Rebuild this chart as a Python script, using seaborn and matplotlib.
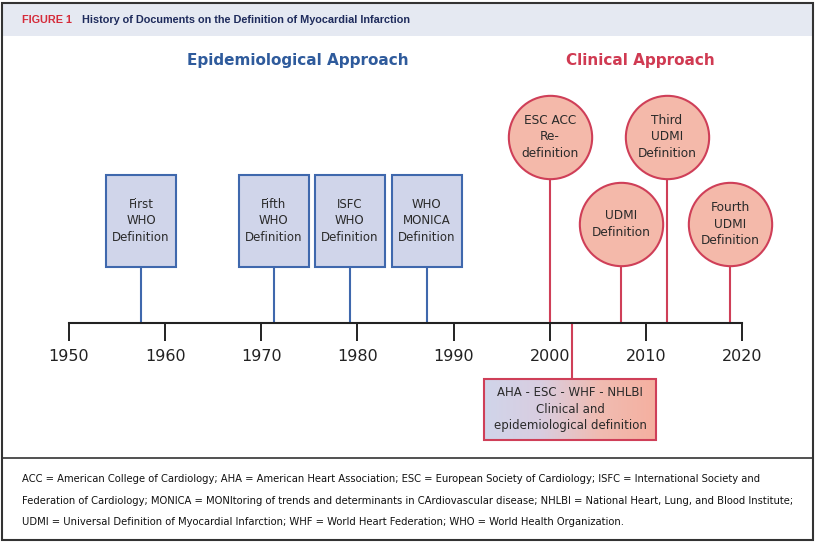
import numpy as np
import pandas as pd
import matplotlib
matplotlib.use("Agg")
import matplotlib.pyplot as plt
from matplotlib.patches import Rectangle
from matplotlib.colors import LinearSegmentedColormap
import seaborn as sns

# --- data ---
tick_years = [1950, 1960, 1970, 1980, 1990, 2000, 2010, 2020]

epi_labels = ["First\nWHO\nDefinition", "Fifth\nWHO\nDefinition",
              "ISFC\nWHO\nDefinition", "WHO\nMONICA\nDefinition"]
epi_years = [1957.5, 1971.3, 1979.2, 1987.2]

clin_labels = ["ESC ACC\nRe-\ndefinition", "UDMI\nDefinition",
               "Third\nUDMI\nDefinition", "Fourth\nUDMI\nDefinition"]
clin_years = [2000.0, 2007.4, 2012.2, 2018.8]

joint_label = "AHA - ESC - WHF - NHLBI\nClinical and\nepidemiological definition"
joint_year = 2002.3

title_tag = "FIGURE 1"
title_text = "History of Documents on the Definition of Myocardial Infarction"
footnote = [
    "ACC = American College of Cardiology; AHA = American Heart Association; ESC = European Society of Cardiology; ISFC = International Society and",
    "Federation of Cardiology; MONICA = MONItoring of trends and determinants in CArdiovascular disease; NHLBI = National Heart, Lung, and Blood Institute;",
    "UDMI = Universal Definition of Myocardial Infarction; WHF = World Heart Federation; WHO = World Health Organization.",
]

# --- layout (pixels, y down) ---
W, H = 816, 543
PX_PER_YEAR = 9.614
X0 = 69  # pixel of 1950
AXIS_Y = 323
clin_tier = [137, 224, 137, 224]  # circle centres

BLUE = "#3f68ad"
BLUE_FILL = "#d0d5ea"
RED = "#cf3f58"
RED_FILL = "#f4b9aa"
TXT = "#2a2a2a"

sns.set_theme(style="white")
plt.rcParams["font.family"] = ["DejaVu Sans"]

fig = plt.figure(figsize=(W / 100, H / 100), dpi=100)

# frame axes in pixel coords
fr = fig.add_axes([0, 0, 1, 1])
fr.set_xlim(0, W)
fr.set_ylim(H, 0)
fr.axis("off")
fr.add_patch(Rectangle((2, 3), W - 5, 33, facecolor="#e5e9f2", edgecolor="none", zorder=0))
fr.add_patch(Rectangle((2, 3), W - 5, H - 6, facecolor="none", edgecolor="#333333", lw=1.5, zorder=5))
fr.plot([2, W - 3], [458, 458], color="#333333", lw=1.2, zorder=5)
fr.text(22, 20, title_tag, color="#d52b3a", fontsize=7.8, fontweight="bold", va="center",
        family=["Liberation Sans", "DejaVu Sans"])
fr.text(82, 20, title_text, color="#1e2b5c", fontsize=7.8, fontweight="bold", va="center",
        family=["Liberation Sans", "DejaVu Sans"])
for i, line in enumerate(footnote):
    fr.text(22, 479 + i * 21.5, line, fontsize=7.2, color="#111111", va="center")

# timeline axes: x in years, y in pixels
ax = fig.add_axes([0, 0, 1, 1], facecolor="none")
xlim = (1950 - X0 / PX_PER_YEAR, 1950 + (W - X0) / PX_PER_YEAR)
ax.set_xlim(*xlim)
ax.set_ylim(H, 0)
for s in ["top", "left", "right"]:
    ax.spines[s].set_visible(False)
ax.spines["bottom"].set_position(("data", AXIS_Y))
ax.spines["bottom"].set_bounds(1950, 2020)
ax.spines["bottom"].set_linewidth(1.5)
ax.spines["bottom"].set_color("#222222")
ax.set_xticks(tick_years)
ax.set_xticklabels([str(y) for y in tick_years])
ax.tick_params(axis="x", direction="out", length=13, width=1.4, color="#222222",
               labelsize=11.5, pad=5.5, labelcolor="#222222", bottom=True)
ax.set_yticks([])
ax.grid(False)

ax.text(1950 + (298 - X0) / PX_PER_YEAR, 60, "Epidemiological Approach", color="#2f5b9c",
        fontsize=11, fontweight="bold", ha="center", va="center")
ax.text(1950 + (640 - X0) / PX_PER_YEAR, 60, "Clinical Approach", color="#d03a52",
        fontsize=11, fontweight="bold", ha="center", va="center")

# epidemiological boxes
bw = 70 / PX_PER_YEAR
for yr, lab in zip(epi_years, epi_labels):
    ax.plot([yr, yr], [267, AXIS_Y], color=BLUE, lw=1.5, zorder=2)
    ax.add_patch(Rectangle((yr - bw / 2, 175), bw, 92, facecolor=BLUE_FILL,
                           edgecolor=BLUE, lw=1.5, zorder=3))
    ax.text(yr, 221, lab, ha="center", va="center", fontsize=8.5, color=TXT,
            linespacing=1.35, zorder=4)

# clinical circles
circ = pd.DataFrame({"year": clin_years, "y": clin_tier})
for yr, cy in zip(clin_years, clin_tier):
    ax.plot([yr, yr], [cy, AXIS_Y], color=RED, lw=1.5, zorder=2)
sns.scatterplot(data=circ, x="year", y="y", s=3600, color=RED_FILL, edgecolor=RED,
                linewidth=1.5, zorder=3, ax=ax, legend=False)
for yr, cy, lab in zip(clin_years, clin_tier, clin_labels):
    ax.text(yr, cy, lab, ha="center", va="center", fontsize=8.7, color=TXT,
            linespacing=1.35, zorder=4)
ax.set_xlabel("")
ax.set_ylabel("")

# joint definition box with gradient
ax.plot([joint_year, joint_year], [AXIS_Y, 379], color=RED, lw=1.5, zorder=2)
jl = 1950 + (484 - X0) / PX_PER_YEAR
jr = 1950 + (656 - X0) / PX_PER_YEAR
grad = LinearSegmentedColormap.from_list("g", [BLUE_FILL, "#d9cde0", "#f0bcb2", "#f5b0a0"])
ax.imshow(np.linspace(0, 1, 256)[None, :], cmap=grad, aspect="auto",
          extent=(jl, jr, 440, 379), zorder=3)
ax.add_patch(Rectangle((jl, 379), jr - jl, 61, facecolor="none", edgecolor=RED, lw=1.5, zorder=4))
ax.text((jl + jr) / 2, 409.5, joint_label, ha="center", va="center", fontsize=8.5,
        color=TXT, linespacing=1.35, zorder=5)
ax.set_xlim(*xlim)
ax.set_ylim(H, 0)

fig.savefig("out.png", dpi=100)
